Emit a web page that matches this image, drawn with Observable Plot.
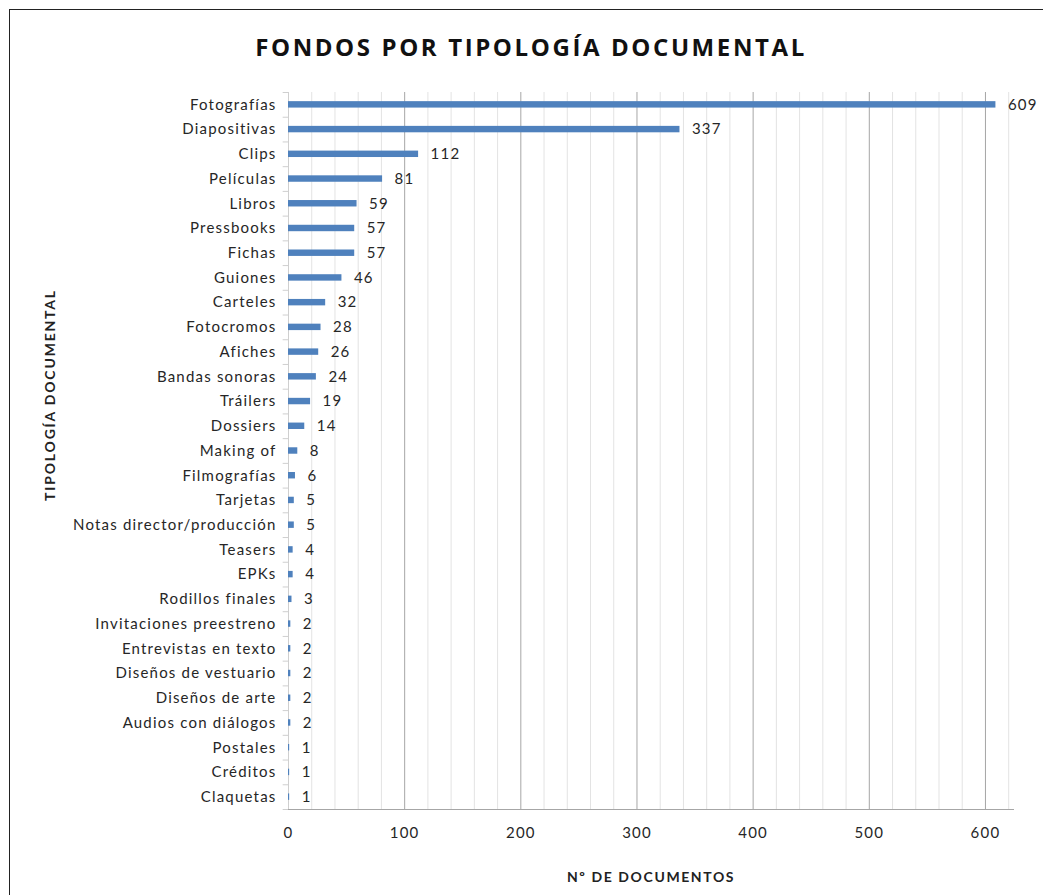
<!DOCTYPE html>
<html>
<head>
<meta charset="utf-8">
<script src="https://cdn.jsdelivr.net/npm/d3@7"></script>
<script src="https://cdn.jsdelivr.net/npm/@observablehq/plot@0.6"></script>
<style>
  html, body { margin: 0; padding: 0; background: #fff; overflow: hidden; }
  #wrap { position: relative; width: 1043px; height: 895px; overflow: hidden; font-family: Lato, "Open Sans", sans-serif; }
  #border { position: absolute; left: 9px; top: 9px; width: 1200px; height: 1200px; border: 1.5px solid #222; box-sizing: border-box; pointer-events: none; }
  #title { position: absolute; left: 0; width: 1062px; top: 30px; text-align: center; font-family: "Open Sans", Lato, sans-serif; font-weight: 700; font-size: 24px; letter-spacing: 2.6px; color: #111; }
  #xlabel { position: absolute; left: 288px; width: 726px; top: 868px; text-align: center; font-weight: 700; font-size: 14px; letter-spacing: 1.6px; color: #222; }
  #ylabel { position: absolute; left: 49px; top: 395px; transform: translate(-50%, -50%) rotate(-90deg); white-space: nowrap; font-weight: 700; font-size: 14px; letter-spacing: 1.8px; color: #222; }
  #chart { position: absolute; left: 0; top: 0; }
  #chart svg text { letter-spacing: 1.2px; }
</style>
</head>
<body>
<div id="wrap">
  <div id="chart"></div>
  <div id="title">FONDOS POR TIPOLOGÍA DOCUMENTAL</div>
  <div id="xlabel">Nº DE DOCUMENTOS</div>
  <div id="ylabel">TIPOLOGÍA DOCUMENTAL</div>
  <div id="border"></div>
</div>
<script>
const categories = [
  "Fotografías", "Diapositivas", "Clips", "Películas", "Libros", "Pressbooks",
  "Fichas", "Guiones", "Carteles", "Fotocromos", "Afiches", "Bandas sonoras",
  "Tráilers", "Dossiers", "Making of", "Filmografías", "Tarjetas",
  "Notas director/producción", "Teasers", "EPKs", "Rodillos finales",
  "Invitaciones preestreno", "Entrevistas en texto", "Diseños de vestuario",
  "Diseños de arte", "Audios con diálogos", "Postales", "Créditos", "Claquetas"
];
const values = [
  609, 337, 112, 81, 59, 57,
  57, 46, 32, 28, 26, 24,
  19, 14, 8, 6, 5,
  5, 4, 4, 3,
  2, 2, 2,
  2, 2, 1, 1, 1
];
const majorTicks = [0, 100, 200, 300, 400, 500, 600];
const minorTicks = [20, 40, 60, 80, 120, 140, 160, 180, 220, 240, 260, 280, 320, 340, 360, 380, 420, 440, 460, 480, 520, 540, 560, 580, 620];

const data = categories.map((c, i) => ({category: c, value: values[i]}));

const step = (895 - 92 - 86) / categories.length;

const chart = Plot.plot({
  width: 1043,
  height: 895,
  marginLeft: 288,
  marginRight: 29,
  marginTop: 92,
  marginBottom: 86,
  style: {fontFamily: "Lato, 'Open Sans', sans-serif", fontSize: "15px", color: "#262626", background: "transparent"},
  x: {domain: [0, 625]},
  y: {domain: categories, paddingInner: 0.74, paddingOuter: 0.37, round: false},
  marks: [
    Plot.gridX(minorTicks, {stroke: "#e3e3e3", strokeOpacity: 1}),
    Plot.gridX(majorTicks, {stroke: "#a6a6a6", strokeOpacity: 1}),
    Plot.ruleX([0], {stroke: "#cfcfcf"}),
    Plot.ruleY(categories, {y: d => d, x1: -4.6, x2: 0, dy: -step / 2, stroke: "#cfcfcf", clip: false}),
    Plot.ruleY([categories[categories.length - 1]], {y: d => d, x1: -4.6, x2: 0, dy: step / 2, stroke: "#cfcfcf", clip: false}),
    Plot.ruleY([0], {y: () => categories[categories.length - 1], dy: step / 2, x1: 0, x2: 625, stroke: "#a6a6a6"}),
    Plot.barX(data, {x: "value", y: "category", fill: "#4f81bd"}),
    Plot.text(data, {x: "value", y: "category", text: d => String(d.value), dx: 12, textAnchor: "start", fill: "#262626", fontSize: 15}),
    Plot.axisX(majorTicks, {tickSize: 0, tickPadding: 18, label: null, fill: "#262626", fontSize: 15}),
    Plot.axisY({tickSize: 0, tickPadding: 12, label: null, fill: "#262626", fontSize: 15})
  ]
});
document.getElementById("chart").appendChild(chart);
</script>
</body>
</html>
